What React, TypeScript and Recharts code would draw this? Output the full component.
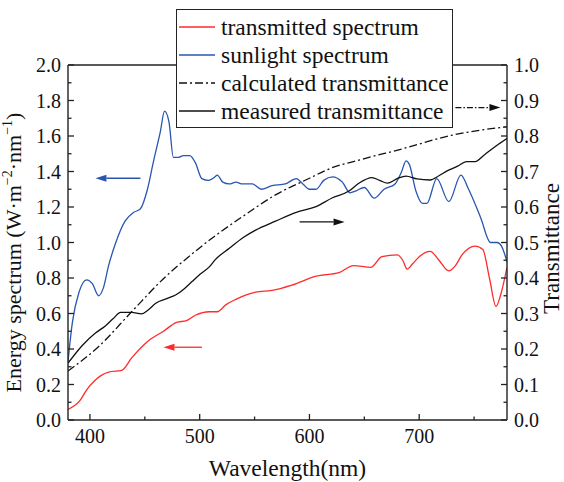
import React from "react";
import { LineChart, Line, XAxis, YAxis, ReferenceLine, Legend } from "recharts";

// [wavelength (nm), value] pairs
const sunlightSpectrum: [number, number][] = [
  [380, 0.33], [384, 0.55], [390, 0.72], [397, 0.79], [402, 0.77], [408, 0.7],
  [412, 0.74], [417, 0.87], [423, 0.99], [432, 1.12], [440, 1.17], [446, 1.19],
  [452, 1.29], [458, 1.46], [464, 1.62], [468, 1.74], [472, 1.68], [476, 1.48],
  [481, 1.48], [485, 1.49], [491, 1.49], [496, 1.45], [502, 1.36], [508, 1.35],
  [514, 1.37], [516, 1.38], [521, 1.34], [527, 1.33], [533, 1.34], [539, 1.33],
  [548, 1.33], [556, 1.3], [566, 1.32], [578, 1.33], [588, 1.36], [594, 1.33],
  [600, 1.3], [606, 1.3], [613, 1.35], [621, 1.37], [630, 1.34], [637, 1.28],
  [642, 1.29], [650, 1.31], [659, 1.25], [668, 1.3], [678, 1.33], [684, 1.4],
  [688, 1.46], [691, 1.44], [697, 1.29], [703, 1.22], [707, 1.22], [716, 1.36],
  [727, 1.23], [738, 1.38], [745, 1.3], [756, 1.14], [765, 1.0], [771, 1.0],
  [775, 0.98], [780, 0.89],
];

const transmittedSpectrum: [number, number][] = [
  [380, 0.06], [391, 0.11], [397, 0.17], [404, 0.22], [410, 0.25], [417, 0.27],
  [429, 0.28], [438, 0.35], [452, 0.44], [467, 0.5], [479, 0.55], [488, 0.56],
  [496, 0.59], [509, 0.61], [516, 0.61], [524, 0.65], [533, 0.68], [551, 0.72],
  [566, 0.73], [584, 0.76], [606, 0.81], [627, 0.83], [640, 0.87], [656, 0.86],
  [666, 0.92], [680, 0.93], [685, 0.9], [689, 0.85], [694, 0.88], [700, 0.92],
  [710, 0.95], [718, 0.9], [727, 0.84], [733, 0.87], [739, 0.93], [751, 0.98],
  [758, 0.96], [764, 0.8], [770, 0.64], [774, 0.7], [780, 0.86],
];

const calculatedTransmittance: [number, number][] = [
  [380, 0.138], [408, 0.207], [438, 0.305], [469, 0.404], [490, 0.46],
  [509, 0.507], [539, 0.573], [569, 0.634], [600, 0.681], [620, 0.71],
  [645, 0.732], [686, 0.765], [731, 0.803], [780, 0.826],
];

const measuredTransmittance: [number, number][] = [
  [380, 0.16], [393, 0.21], [405, 0.245], [414, 0.265], [421, 0.285], [428, 0.303],
  [438, 0.303], [447, 0.299], [453, 0.31], [460, 0.329], [470, 0.342], [478, 0.352],
  [486, 0.37], [493, 0.39], [500, 0.41], [509, 0.432], [514, 0.451], [527, 0.484],
  [540, 0.515], [551, 0.535], [569, 0.56], [588, 0.585], [606, 0.601], [621, 0.626],
  [636, 0.645], [645, 0.667], [657, 0.683], [664, 0.675], [671, 0.667], [680, 0.68],
  [688, 0.687], [698, 0.679], [710, 0.676], [718, 0.688], [725, 0.701], [735, 0.715],
  [743, 0.728], [751, 0.728], [759, 0.746], [770, 0.772], [780, 0.793],
];

const xMajor = [400, 500, 600, 700];
const xMinor = [450, 550, 650, 750];
const leftMajor = [0, 0.2, 0.4, 0.6, 0.8, 1.0, 1.2, 1.4, 1.6, 1.8, 2.0];
const leftMinor = [0.1, 0.3, 0.5, 0.7, 0.9, 1.1, 1.3, 1.5, 1.7, 1.9];
const rightMajor = [0, 0.1, 0.2, 0.3, 0.4, 0.5, 0.6, 0.7, 0.8, 0.9, 1.0];
const rightMinor = [0.05, 0.15, 0.25, 0.35, 0.45, 0.55, 0.65, 0.75, 0.85, 0.95];

// arrows pointing each curve to its axis: [from, to] in data units
const sunlightArrow = [{ x: 446, y: 1.362 }, { x: 405, y: 1.362 }];
const transmittedArrow = [{ x: 502, y: 0.41 }, { x: 467, y: 0.41 }];
const measuredArrow = [{ x: 591, y: 0.558 }, { x: 632, y: 0.558 }];
const calculatedArrow = [{ x: 733, y: 0.88 }, { x: 774, y: 0.88 }];

const toPoints = (pairs: [number, number][]) => pairs.map(([wl, v]) => ({ wl, v }));

const FONT = "Liberation Serif";
const AXIS = "#222";
const RED = "#ff2a2a";
const BLUE = "#2856b0";
const DASHDOT = "8 3 2 3";
const MARGIN = 7;

const isIn = (list: number[], v: number) => list.some((m) => Math.abs(m - v) < 1e-6);

const makeTick = (side: "left" | "right" | "bottom", major: number[], fmt: (v: number) => string) =>
  (props: any) => {
    const { x, y, payload } = props;
    const v = payload.value as number;
    const big = isIn(major, v);
    const len = big ? 6 : 3.5;
    if (side === "bottom") {
      const ay = y - MARGIN;
      return (
        <g>
          <line x1={x} x2={x} y1={ay} y2={ay - len} stroke={AXIS} strokeWidth={1.3} />
          {big && (
            <text x={x} y={y} dy="0.8em" textAnchor="middle" fontSize={20} fontFamily={FONT} fill="#111">
              {fmt(v)}
            </text>
          )}
        </g>
      );
    }
    const ax = side === "left" ? x + MARGIN : x - MARGIN;
    const dir = side === "left" ? 1 : -1;
    return (
      <g>
        <line x1={ax} x2={ax + dir * len} y1={y} y2={y} stroke={AXIS} strokeWidth={1.3} />
        {big && (
          <text x={x} y={y} dy="0.35em" textAnchor={side === "left" ? "end" : "start"} fontSize={20} fontFamily={FONT} fill="#111">
            {fmt(v)}
          </text>
        )}
      </g>
    );
  };

const Arrow = (props: any) => {
  const { x1, y1, x2, y2, stroke, strokeDasharray } = props;
  const a = Math.atan2(y2 - y1, x2 - x1);
  const L = 11;
  const W = 3.5;
  const bx = x2 - L * Math.cos(a);
  const by = y2 - L * Math.sin(a);
  const nx = -Math.sin(a) * W;
  const ny = Math.cos(a) * W;
  return (
    <g>
      <line x1={x1} y1={y1} x2={bx} y2={by} stroke={stroke} strokeWidth={1.3} strokeDasharray={strokeDasharray} />
      <polygon points={`${x2},${y2} ${bx + nx},${by + ny} ${bx - nx},${by - ny}`} fill={stroke} />
    </g>
  );
};

const XTitle = (props: any) => {
  const { x, y, width } = props.viewBox;
  return (
    <text x={x + width / 2} y={y + 56} textAnchor="middle" fontSize={23.5} fontFamily={FONT} fill="#111">
      Wavelength(nm)
    </text>
  );
};

const LeftTitle = (props: any) => {
  const { x, y, height } = props.viewBox;
  const cx = x + 21;
  const cy = y + height / 2 + 10;
  return (
    <text transform={`translate(${cx},${cy}) rotate(-90)`} textAnchor="middle" fontSize={22} fontFamily={FONT} fill="#111">
      Energy spectrum (W·m
      <tspan dy={-9} fontSize={14}>−2</tspan>
      <tspan dy={9}>·nm</tspan>
      <tspan dy={-9} fontSize={14}>−1</tspan>
      <tspan dy={9}>)</tspan>
    </text>
  );
};

const RightTitle = (props: any) => {
  const { x, y, height } = props.viewBox;
  const cx = x + 52;
  const cy = y + height / 2 + 6;
  return (
    <text transform={`translate(${cx},${cy}) rotate(-90)`} textAnchor="middle" fontSize={23} fontFamily={FONT} fill="#111">
      Transmittance
    </text>
  );
};

const legendItems = [
  { name: "transmitted spectrum", color: RED, dash: undefined },
  { name: "sunlight spectrum", color: BLUE, dash: undefined },
  { name: "calculated transmittance", color: "#111", dash: DASHDOT },
  { name: "measured transmittance", color: "#111", dash: undefined },
];

const LegendBox = () => (
  <div
    style={{
      width: 277,
      height: 119,
      border: `1.3px solid ${AXIS}`,
      background: "#fff",
      fontFamily: FONT,
      fontSize: 23.5,
      color: "#111",
      boxSizing: "border-box",
      paddingTop: 3,
    }}
  >
    {legendItems.map((it) => (
      <div key={it.name} style={{ height: 28, display: "flex", alignItems: "center", whiteSpace: "nowrap" }}>
        <svg width={44} height={10} style={{ flex: "none" }}>
          <line x1={2} x2={38} y1={5} y2={5} stroke={it.color} strokeWidth={1.3} strokeDasharray={it.dash} />
        </svg>
        <span style={{ lineHeight: "28px" }}>{it.name}</span>
      </div>
    ))}
  </div>
);

export default function App() {
  return (
    <div style={{ position: "absolute", left: 0, top: 0, background: "#fff", fontFamily: FONT }}>
      <LineChart width={564} height={482} margin={{ top: 65, right: 0, bottom: 0, left: 0 }}>
        <XAxis
          dataKey="wl"
          type="number"
          domain={[380, 780]}
          ticks={[...xMajor, ...xMinor].sort((a, b) => a - b)}
          interval={0}
          height={62}
          tickSize={0}
          tickMargin={MARGIN}
          tickLine={false}
          axisLine={{ stroke: AXIS, strokeWidth: 1.4 }}
          tick={makeTick("bottom", xMajor, (v) => String(v))}
          label={<XTitle />}
          allowDataOverflow
        />
        <YAxis
          yAxisId="left"
          orientation="left"
          type="number"
          domain={[0, 2]}
          ticks={[...leftMajor, ...leftMinor].sort((a, b) => a - b)}
          interval={0}
          width={68}
          tickSize={0}
          tickMargin={MARGIN}
          tickLine={false}
          axisLine={{ stroke: AXIS, strokeWidth: 1.4 }}
          tick={makeTick("left", leftMajor, (v) => v.toFixed(1))}
          label={<LeftTitle />}
        />
        <YAxis
          yAxisId="right"
          orientation="right"
          type="number"
          domain={[0, 1]}
          ticks={[...rightMajor, ...rightMinor].sort((a, b) => a - b)}
          interval={0}
          width={57}
          tickSize={0}
          tickMargin={MARGIN}
          tickLine={false}
          axisLine={{ stroke: AXIS, strokeWidth: 1.4 }}
          tick={makeTick("right", rightMajor, (v) => v.toFixed(1))}
          label={<RightTitle />}
        />
        <ReferenceLine yAxisId="left" y={2} stroke={AXIS} strokeWidth={1.4} ifOverflow="visible" />

        <Line yAxisId="left" data={toPoints(transmittedSpectrum)} dataKey="v" type="monotone" stroke={RED} strokeWidth={1.3} dot={false} isAnimationActive={false} />
        <Line yAxisId="left" data={toPoints(sunlightSpectrum)} dataKey="v" type="monotone" stroke={BLUE} strokeWidth={1.3} dot={false} isAnimationActive={false} />
        <Line yAxisId="right" data={toPoints(calculatedTransmittance)} dataKey="v" type="monotone" stroke="#111" strokeWidth={1.3} strokeDasharray={DASHDOT} dot={false} isAnimationActive={false} />
        <Line yAxisId="right" data={toPoints(measuredTransmittance)} dataKey="v" type="monotone" stroke="#111" strokeWidth={1.3} dot={false} isAnimationActive={false} />

        <ReferenceLine yAxisId="left" segment={sunlightArrow} stroke={BLUE} shape={Arrow} ifOverflow="visible" />
        <ReferenceLine yAxisId="left" segment={transmittedArrow} stroke={RED} shape={Arrow} ifOverflow="visible" />
        <ReferenceLine yAxisId="right" segment={measuredArrow} stroke="#111" shape={Arrow} ifOverflow="visible" />
        <ReferenceLine yAxisId="right" segment={calculatedArrow} stroke="#111" strokeDasharray="6 2 1.5 2" shape={Arrow} ifOverflow="visible" />

        <Legend
          layout="horizontal"
          verticalAlign="middle"
          align="center"
          content={<LegendBox />}
          wrapperStyle={{ top: 9, left: 176, width: 277, height: 119 }}
        />
      </LineChart>
    </div>
  );
}
